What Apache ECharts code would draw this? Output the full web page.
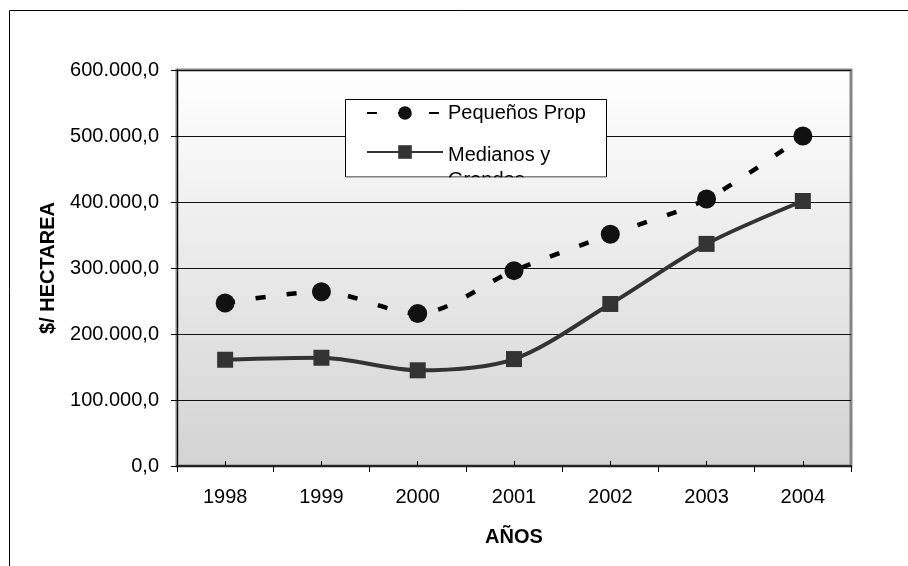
<!DOCTYPE html>
<html>
<head>
<meta charset="utf-8">
<script src="https://cdn.jsdelivr.net/npm/echarts@6/dist/echarts.min.js"></script>
<style>
html,body{margin:0;padding:0;background:#fff;}
#chart{width:908px;height:566px;}
</style>
</head>
<body>
<div id="chart"></div>
<script>
var years = ['1998','1999','2000','2001','2002','2003','2004'];
var pequenos = [247000, 264000, 231000, 296000, 351000, 404500, 500000];
var medianos = [161000, 164000, 145000, 162000, 245500, 336500, 401500];
var seriesNames = ['Pequeños Prop', 'Medianos y Grandes'];
var legendLines = ['Medianos y', 'Grandes'];
var yAxisTitle = '$/ HECTAREA';
var xAxisTitle = 'AÑOS';

var FONT = '"Liberation Sans", Arial, sans-serif';
function fmt(v) {
  return Math.round(v).toString().replace(/\B(?=(\d{3})+(?!\d))/g, '.') + ',0';
}
function bgGrad() {
  return new echarts.graphic.LinearGradient(0, 70, 0, 466, [
    {offset: 0, color: '#ffffff'},
    {offset: 1, color: '#d3d3d3'}
  ], true);
}

var chart = echarts.init(document.getElementById('chart'), null, {renderer: 'canvas'});
chart.setOption({
  animation: false,
  textStyle: {fontFamily: FONT, color: '#000'},
  grid: {
    left: 177, top: 70, right: 57, bottom: 100,
    show: true, backgroundColor: bgGrad(), borderColor: '#858585', borderWidth: 3
  },
  legend: [
    {
      data: [seriesNames[0]], left: 366, top: 102, padding: 0, orient: 'vertical',
      itemWidth: 76, itemHeight: 17, selectedMode: false, z: 6,
      textStyle: {fontSize: 20, fontFamily: FONT, color: '#000', lineHeight: 22}
    },
    {
      data: [seriesNames[1]], left: 366, top: 117, padding: 0, orient: 'vertical',
      itemWidth: 76, itemHeight: 17, selectedMode: false, z: 6,
      formatter: function () {
        return '{e| }\n{a|' + legendLines[0] + '}\n{a|' + legendLines[1] + '}';
      },
      textStyle: {
        fontSize: 20, fontFamily: FONT, color: '#000',
        rich: {
          e: {fontSize: 20, lineHeight: 31.6, fontFamily: FONT},
          a: {fontSize: 20, lineHeight: 25, fontFamily: FONT, color: '#000'}
        }
      }
    }
  ],
  graphic: [
    {type: 'rect', z: -10, silent: true,
      shape: {x: 9.5, y: 10.5, width: 1000, height: 1000},
      style: {fill: null, stroke: '#000', lineWidth: 1}},
    {type: 'rect', z: 5, silent: true,
      shape: {x: 345.5, y: 99.5, width: 261, height: 77.5},
      style: {fill: '#fff', stroke: '#000', lineWidth: 1}},
    {type: 'rect', z: 100, silent: true,
      shape: {x: 345, y: 177.6, width: 263, height: 22},
      style: {fill: bgGrad(), stroke: null}}
  ],
  xAxis: [
    {
      type: 'category', data: years, boundaryGap: true,
      name: xAxisTitle, nameLocation: 'middle', nameGap: 61,
      nameTextStyle: {fontSize: 20, fontWeight: 'bold', fontFamily: FONT, color: '#000'},
      axisLine: {show: true, lineStyle: {color: '#222', width: 2}},
      axisTick: {show: true, alignWithLabel: false, length: 6, lineStyle: {color: '#000', width: 1}},
      axisLabel: {fontSize: 20, margin: 21, color: '#000', fontFamily: FONT},
      splitLine: {show: false}
    },
    {
      type: 'category', data: years, boundaryGap: true, position: 'bottom',
      axisLine: {show: false},
      axisTick: {show: true, alignWithLabel: true, inside: true, length: 5, lineStyle: {color: '#000', width: 1}},
      axisLabel: {show: false},
      splitLine: {show: false}
    }
  ],
  yAxis: {
    type: 'value', min: 0, max: 600000, interval: 100000,
    name: yAxisTitle, nameLocation: 'middle', nameGap: 119, nameRotate: 90,
    nameTextStyle: {fontSize: 20, fontWeight: 'bold', fontFamily: FONT, color: '#000'},
    axisLine: {show: true, lineStyle: {color: '#000', width: 1}},
    axisTick: {show: true, length: 6, lineStyle: {color: '#000', width: 1}},
    axisLabel: {fontSize: 20, margin: 18, color: '#000', fontFamily: FONT, formatter: fmt},
    splitLine: {show: true, lineStyle: {color: '#111', width: 1}}
  },
  series: [
    {
      name: seriesNames[0], type: 'line', data: pequenos, xAxisIndex: 0,
      smooth: 0.3, symbol: 'circle', symbolSize: 19, showSymbol: true,
      lineStyle: {color: '#000', width: 4.5, type: [10, 21]},
      itemStyle: {color: '#111', borderWidth: 0}, z: 3
    },
    {
      name: seriesNames[1], type: 'line', data: medianos, xAxisIndex: 0,
      smooth: 0.3, symbol: 'rect', symbolSize: 16, showSymbol: true,
      lineStyle: {color: '#333', width: 4},
      itemStyle: {color: '#333', borderWidth: 0}, z: 3
    }
  ]
});
</script>
</body>
</html>
